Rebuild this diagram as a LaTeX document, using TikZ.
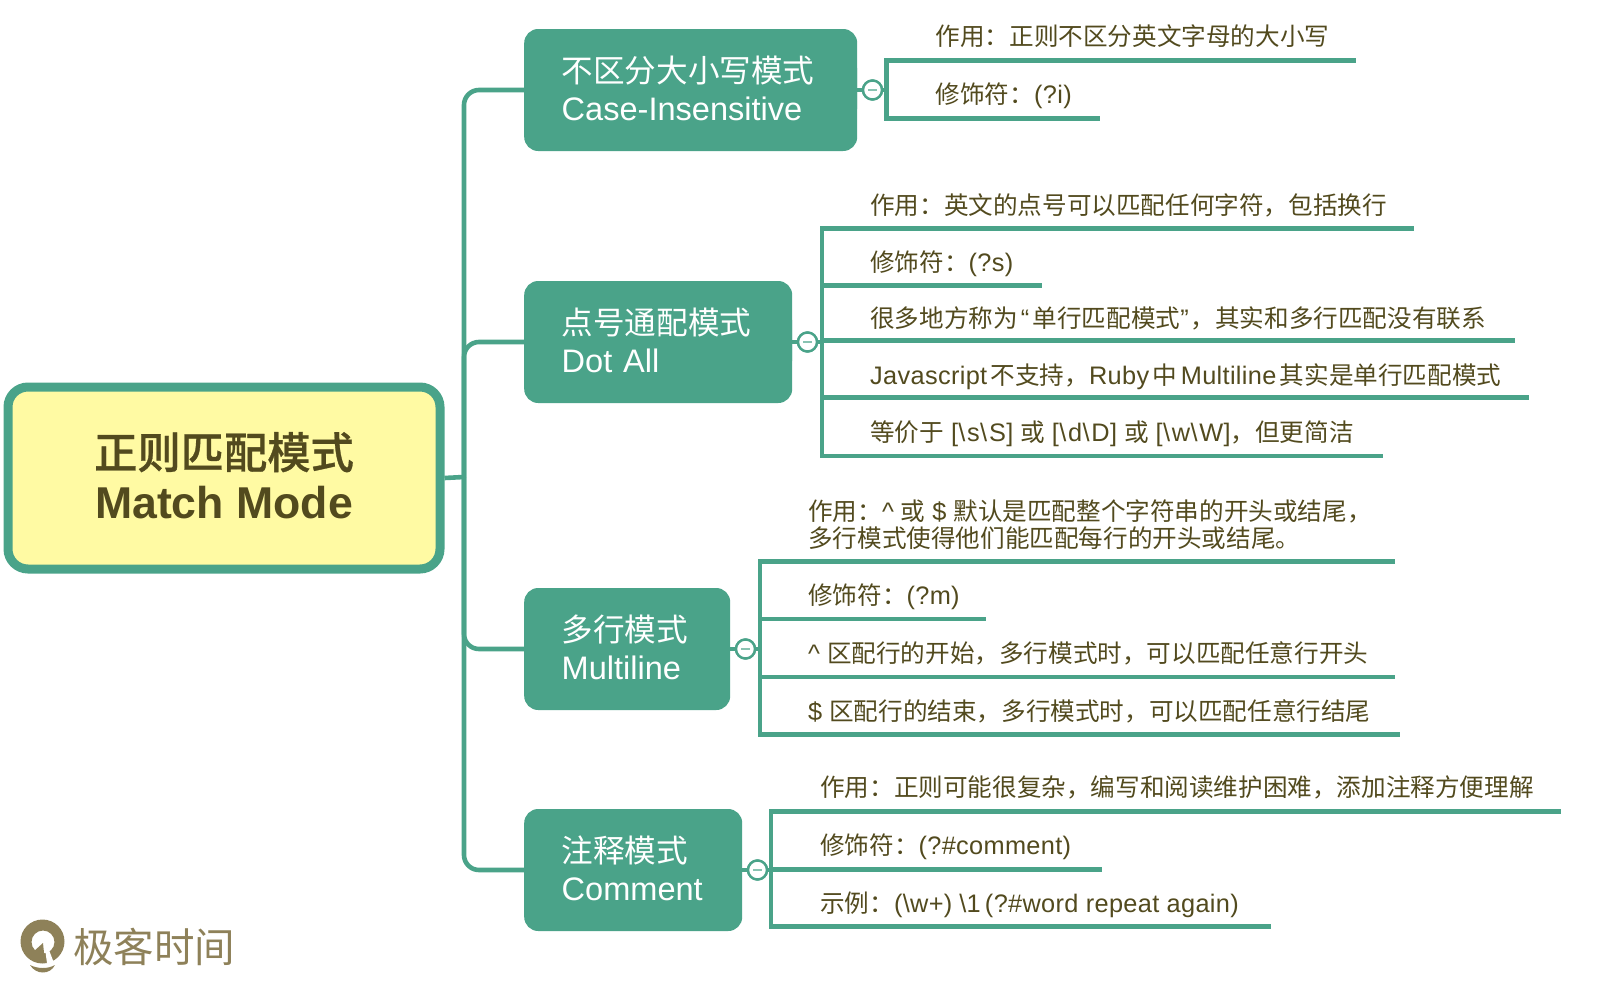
\documentclass[tikz,border=0pt]{standalone}
\usepackage{fontspec}
\setmainfont[Scale=1.03]{Liberation Sans}
\newfontfamily\leaflatin[Scale=1.03,LetterSpace=1.3]{Liberation Sans}
\newfontfamily\cjkf{Noto Sans CJK SC}
\newfontfamily\cjkb[FakeBold=0.7]{Noto Sans CJK SC Medium}
\newcommand\zh[1]{{\cjkf #1}}
\newcommand\zs{\hspace{7pt}}
\newcommand\zt{\hspace{3.5pt}}
\newcommand\bsl{\textbackslash\hspace{1.8pt}}
\definecolor{mgreen}{HTML}{4AA389}
\definecolor{myellow}{HTML}{FFFAA3}
\definecolor{mtext}{HTML}{524A1E}
\definecolor{mlogo}{HTML}{8E8159}
\tikzset{
  rootbox/.style={draw=mgreen,line width=9pt,fill=myellow,rounded corners=20pt,inner sep=0pt},
  roottextstyle/.style={text=mtext,align=center,inner sep=0pt,font=\fontsize{43.3}{50}\selectfont\bfseries},
  branchbox/.style={fill=mgreen,rounded corners=14pt,text=white,align=left,anchor=west,inner ysep=0pt,inner xsep=37.5pt,font=\fontsize{31.6}{38.2}\selectfont},
  leaf/.style={anchor=base west,inner sep=0pt,text=mtext,font=\fontsize{24.6}{27}\selectfont\leaflatin,align=left},
  link/.style={draw=mgreen,line width=4.6pt},
  spine/.style={link,rounded corners=15pt},
  toggle/.style={circle,draw=mgreen,line width=2.4pt,fill=white,minimum size=19pt,inner sep=0pt},
}
\newcommand\togglemark[1]{\draw[mgreen!65!white,line width=1.8pt] ([xshift=-4.5pt]#1.center) -- ([xshift=4.5pt]#1.center);}
\begin{document}
\begin{tikzpicture}[x=1pt,y=-1pt]
\useasboundingbox (0,0) rectangle (1598,988);
% boxes
\node[rootbox,minimum width=432pt,minimum height=182pt] (root) at (224,478) {};
\node[roottextstyle] (roottext) at (224,475.5) {{\mdseries\cjkb 正则匹配模式}\\Match Mode};
\node[branchbox,minimum width=333pt,minimum height=122pt,text width=258pt] (b1) at (524,90) {};
\node[branchbox,minimum width=268pt,minimum height=122pt,text width=193pt] (b2) at (524,342) {};
\node[branchbox,minimum width=206pt,minimum height=122pt,text width=131pt] (b3) at (524,649) {};
\node[branchbox,minimum width=218pt,minimum height=122pt,text width=143pt] (b4) at (524,870) {};
\node[branchbox,text width=258pt] (bt1) at (524,88.5) {\zh{不区分大小写模式}\\Case-Insensitive};
\node[branchbox,text width=193pt] (bt2) at (524,340.5) {\zh{点号通配模式}\\Dot All};
\node[branchbox,text width=131pt,fill=none] (bt3) at (524,647.5) {\zh{多行模式}\\Multiline};
\node[branchbox,text width=143pt,fill=none] (bt4) at (524,868.5) {\zh{注释模式}\\Comment};
% toggles
\node[toggle] (t1) at (872.5,90) {};
\node[toggle] (t2) at (807.5,342) {};
\node[toggle] (t3) at (745.5,649) {};
\node[toggle] (t4) at (757.5,870) {};
% spine
\coordinate (sp) at (464,477);
\draw[spine] (b1.west) -| (sp);
\draw[spine] (b4.west) -| (sp);
\draw[spine] (b2.west) -| (sp);
\draw[spine] (b3.west) -| (sp);
\draw[link] (root.east) -- (sp);
% leaves, group 1
\coordinate (g1a) at (886.5,60.5); \coordinate (g1b) at (886.5,118.5);
\coordinate (l11) at (1354,60.5); \coordinate (l12) at (1098,118.5);
\draw[link,line cap=rect] (l11) -- (g1a) -- (g1b) -- (l12);
\draw[link] (b1.east) -- (t1);
\draw[link] (t1) -- (t1-|g1a);
\node[leaf] (n11) at (935.5,45.5) {\zh{作用：正则不区分英文字母的大小写}};
\node[leaf] (n12) at (935.5,103.5) {\zh{修饰符：}(?i)};
% group 2
\coordinate (g2a) at (822,228.5); \coordinate (g2b) at (822,456);
\coordinate (l21) at (1412,228.5); \coordinate (l22) at (1042,285.5); \coordinate (l23) at (1515,340.5); \coordinate (l24) at (1529,397.5); \coordinate (l25) at (1381,456);
\draw[link,line cap=rect] (l21) -- (g2a) -- (g2b) -- (l25);
\draw[link] (g2a|-l22) -- (l22);
\draw[link] (g2a|-l23) -- (l23);
\draw[link] (g2a|-l24) -- (l24);
\draw[link] (b2.east) -- (t2);
\draw[link] (t2) -- (t2-|g2a);
\node[leaf] (n21) at (870,214) {\zh{作用：英文的点号可以匹配任何字符，包括换行}};
\node[leaf] (n22) at (870,271.5) {\zh{修饰符：}(?s)};
\node[leaf] (n23) at (870,327) {\zh{很多地方称为}\hspace{3pt}“\hspace{3.5pt}\zh{单行匹配模式}”\hspace{2pt}\zh{，其实和多行匹配没有联系}};
\node[leaf] (n24) at (870,384) {Javascript\zt\zh{不支持，}Ruby\zt\zh{中}\zt Multiline\zt\zh{其实是单行匹配模式}};
\node[leaf] (n25) at (870,441.5) {\zh{等价于}\zs[\bsl s\bsl S]\zs\zh{或}\zs[\bsl d\bsl D]\zs\zh{或}\zs[\bsl w\bsl W]\zh{，但更简洁}};
% group 3
\coordinate (g3a) at (760,561.5); \coordinate (g3b) at (760,734.5);
\coordinate (l31) at (1393,561.5); \coordinate (l32) at (986,619); \coordinate (l33) at (1395,677); \coordinate (l34) at (1398,734.5);
\draw[link,line cap=rect] (l31) -- (g3a) -- (g3b) -- (l34);
\draw[link] (g3a|-l32) -- (l32);
\draw[link] (g3a|-l33) -- (l33);
\draw[link] (b3.east) -- (t3);
\draw[link] (t3) -- (t3-|g3a);
\node[leaf] (n31) at (808,520) {\zh{作用：}\^{}\zs\zh{或}\zs\$\zs\zh{默认是匹配整个字符串的开头或结尾，}};
\node[leaf] (n31b) at (808,547) {\zh{多行模式使得他们能匹配每行的开头或结尾。}};
\node[leaf] (n32) at (808,604.5) {\zh{修饰符：}(?m)};
\node[leaf] (n33) at (808,662.5) {\^{}\zs\zh{区配行的开始，多行模式时，可以匹配任意行开头}};
\node[leaf] (n34) at (808,720.5) {\$\zs\zh{区配行的结束，多行模式时，可以匹配任意行结尾}};
% group 4
\coordinate (g4a) at (771,811.5); \coordinate (g4b) at (771,926.5);
\coordinate (l41) at (1559,811.5); \coordinate (l42) at (1102,869.5); \coordinate (l43) at (1269,926.5);
\draw[link,line cap=rect] (l41) -- (g4a) -- (g4b) -- (l43);
\draw[link] (g4a|-l42) -- (l42);
\draw[link] (b4.east) -- (t4);
\draw[link] (t4) -- (t4-|g4a);
\node[leaf] (n41) at (820,796.5) {\zh{作用：正则可能很复杂，编写和阅读维护困难，添加注释方便理解}};
\node[leaf] (n42) at (820,854.5) {\zh{修饰符：}(?\#comment)};
\node[leaf] (n43) at (820,912.5) {\zh{示例：}(\textbackslash w+)\zs\textbackslash 1\,(?\#word repeat again)};
% toggles on top
\node[toggle] at (t1) {}; \togglemark{t1}
\node[toggle] at (t2) {}; \togglemark{t2}
\node[toggle] at (t3) {}; \togglemark{t3}
\node[toggle] at (t4) {}; \togglemark{t4}
% logo
\fill[mlogo,even odd rule] (42.5,941.5) circle[radius=22] (43,942) circle[radius=11.5];
\fill[mlogo] (33,952) -- (43,943) -- (45,962) -- (36,961) -- cycle;
\fill[white] (45.5,952) -- (49,950) -- (54,963) -- (47,963) -- cycle;
\fill[mlogo] (30,965) .. controls (38,969) and (48,969) .. (55,965) .. controls (50,975) and (36,975) .. (30,965) -- cycle;
\node[anchor=base west,inner sep=0pt,text=mlogo,font=\fontsize{40.5}{41}\selectfont] (logo) at (73,962) {\cjkf 极客时间};
\end{tikzpicture}
\end{document}
